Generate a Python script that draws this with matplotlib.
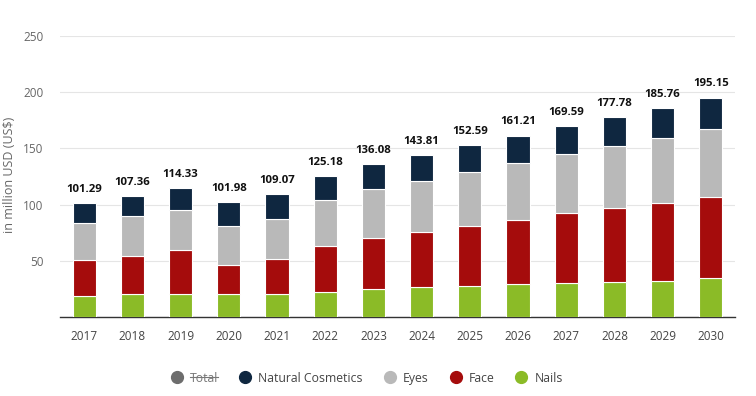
import matplotlib
matplotlib.use("Agg")
import matplotlib.pyplot as plt
from matplotlib.lines import Line2D
import numpy as np

plt.rcParams['font.family'] = ['Open Sans', 'DejaVu Sans']

years = ["2017", "2018", "2019", "2020", "2021", "2022", "2023", "2024",
         "2025", "2026", "2027", "2028", "2029", "2030"]
nails = [18.4, 20.2, 20.8, 20.2, 20.8, 22.6, 24.6, 26.4, 27.3, 29.1, 30.0, 31.5, 32.4, 34.4]
face = [32.6, 34.4, 38.5, 26.4, 31.2, 40.6, 46.0, 49.0, 54.0, 57.5, 62.3, 65.8, 69.4, 72.7]
eyes = [33.0, 35.3, 36.2, 34.7, 35.5, 41.2, 43.6, 45.9, 48.0, 50.8, 53.1, 55.2, 57.8, 60.5]
totals = [101.29, 107.36, 114.33, 101.98, 109.07, 125.18, 136.08, 143.81,
          152.59, 161.21, 169.59, 177.78, 185.76, 195.15]
natural = [round(t - n - f - e, 2) for t, n, f, e in zip(totals, nails, face, eyes)]

series = [("Nails", nails, "#8bbb27"),
          ("Face", face, "#a50c0c"),
          ("Eyes", eyes, "#b9b9b9"),
          ("Natural Cosmetics", natural, "#0f2740")]

W, H = 756, 396
fig = plt.figure(figsize=(W / 100, H / 100), dpi=100)
ax = fig.add_axes([60 / W, 79 / H, 675 / W, 281 / H])

x = np.arange(len(years))
bottom = np.zeros(len(years))
for name, vals, col in series:
    ax.bar(x, vals, bottom=bottom, width=0.48, color=col, edgecolor="white",
           linewidth=0.8, zorder=3)
    bottom += np.array(vals)

for xi, t in zip(x, totals):
    ax.annotate(f"{t:.2f}", (xi, t), xytext=(0, 6), textcoords="offset points",
                ha="center", va="bottom", fontsize=8.2, fontweight="bold", color="#111111")

ax.set_xlim(-0.5, len(years) - 0.5)
ax.set_ylim(0, 250)
ax.set_yticks([0, 50, 100, 150, 200, 250])
ax.set_yticklabels(["", "50", "100", "150", "200", "250"])
ax.set_xticks(x)
ax.set_xticklabels(years)
ax.grid(axis="y", color="#e5e5e5", linewidth=0.8, zorder=0)
for s in ["top", "right", "left"]:
    ax.spines[s].set_visible(False)
ax.spines["bottom"].set_color("#333333")
ax.spines["bottom"].set_linewidth(1.0)
ax.tick_params(axis="y", length=0, pad=12, labelsize=8.5, labelcolor="#666666")
ax.tick_params(axis="x", length=0, pad=9, labelsize=8.5, labelcolor="#444444")
fig.text(10 / W, 1 - 175 / H, "in million USD (US$)", rotation=90, ha="center",
         va="center", fontsize=9, color="#666666")

# manual legend
labels = ["Total", "Natural Cosmetics", "Eyes", "Face", "Nails"]
colors = ["#6d6d6d", "#0f2740", "#b9b9b9", "#a50c0c", "#8bbb27"]
fig.canvas.draw()
r = fig.canvas.get_renderer()
ly = 1 - 377 / H
px = 177.0
for i, (lab, col) in enumerate(zip(labels, colors)):
    fig.add_artist(Line2D([px / W], [ly], transform=fig.transFigure, marker="o",
                          markersize=8.5, color=col, linestyle=""))
    tcol = "#777777" if i == 0 else "#444444"
    t = fig.text((px + 13) / W, ly, lab, ha="left", va="center_baseline",
                 fontsize=8.8, color=tcol)
    bb = t.get_window_extent(r)
    if i == 0:
        fig.add_artist(Line2D([bb.x0 / W, bb.x1 / W], [ly + 0.5 / H, ly + 0.5 / H],
                              transform=fig.transFigure, color="#777777",
                              linewidth=0.8))
    px = bb.x1 + 27

fig.savefig("out.png", dpi=100)
